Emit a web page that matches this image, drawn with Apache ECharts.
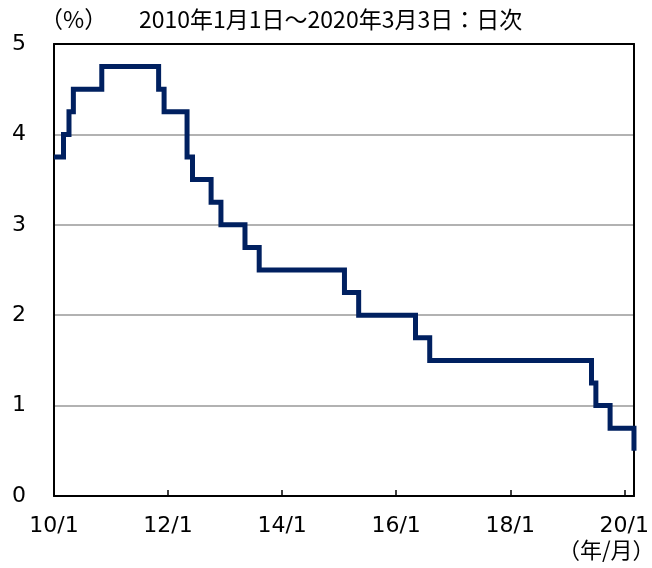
<!DOCTYPE html>
<html><head><meta charset="utf-8">
<script src="https://cdn.jsdelivr.net/npm/echarts@6/dist/echarts.min.js"></script>
<style>html,body{margin:0;padding:0;background:#fff}#c{width:652px;height:568px}</style>
</head><body><div id="c"></div>
<script>
// Policy rate change points (effective date, rate %)
const dates = ['2010-01-01','2010-03-03','2010-04-07','2010-05-05','2010-11-03','2011-11-02','2011-12-07',
  '2012-05-02','2012-06-06','2012-10-03','2012-12-05','2013-05-08','2013-08-07','2015-02-04','2015-05-06',
  '2016-05-04','2016-08-03','2019-06-05','2019-07-03','2019-10-02','2020-03-03'];
const rates = [3.75,4.00,4.25,4.50,4.75,4.50,4.25,3.75,3.50,3.25,3.00,2.75,2.50,2.25,2.00,1.75,1.50,1.25,1.00,0.75,0.50];
const tickDates = ['2010-01-01','2012-01-01','2014-01-01','2016-01-01','2018-01-01','2020-01-01'];
const tickLabels = ['10/1','12/1','14/1','16/1','18/1','20/1'];
const yMin = 0, yMax = 5, yStep = 1;
const titleText = '2010年1月1日～2020年3月3日：日次';
const yUnit = '（%）';
const xUnit = '（年/月）';

const ts = s => { const [y,m,d] = s.split('-').map(Number); return Date.UTC(y, m-1, d); };
const tickTs = tickDates.map(ts);
const FONT = '"DejaVu Sans", "Noto Sans CJK JP", sans-serif';
const CJK = '"Noto Sans CJK JP", sans-serif';

const chart = echarts.init(document.getElementById('c'), null, {renderer:'canvas'});
chart.setOption({
  animation: false,
  backgroundColor: '#fff',
  grid: {left: 54, right: 18, top: 44, bottom: 72},
  graphic: [
    {type:'text', left: 40, top: 8, style:{text: yUnit, font: '23px ' + CJK, fill:'#000'}},
    {type:'text', left: 139, top: 8, style:{text: titleText, font: '23px ' + CJK, fill:'#000'}},
    {type:'text', left: 558, top: 539, style:{text: xUnit, font: '22px ' + CJK, fill:'#000'}}
  ],
  xAxis: [{
    type: 'value',
    min: ts(dates[0]),
    max: ts(dates[dates.length-1]),
    axisLine: {show:true, onZero:false, lineStyle:{color:'#000', width:2}},
    axisTick: {show:true, inside:true, length:6, customValues: tickTs, lineStyle:{color:'#000', width:1.5}},
    axisLabel: {customValues: tickTs, margin: 19, color:'#000', fontSize: 22, fontFamily: FONT,
      formatter: v => { const i = tickTs.indexOf(v); return i >= 0 ? tickLabels[i] : ''; },
      showMinLabel: true, showMaxLabel: true, hideOverlap: false},
    splitLine: {show:false}
  },{
    type: 'value', position: 'top', min: 0, max: 1,
    axisLine: {show:true, onZero:false, lineStyle:{color:'#000', width:2}},
    axisTick: {show:false}, axisLabel: {show:false}, splitLine: {show:false}
  }],
  yAxis: [{
    type: 'value', min: yMin, max: yMax, interval: yStep,
    axisLine: {show:true, onZero:false, lineStyle:{color:'#000', width:2}},
    axisTick: {show:false},
    axisLabel: {color:'#000', fontSize: 22, fontFamily: FONT, margin: 28},
    splitLine: {show:true, lineStyle:{color:'#999', width:1.5}}
  },{
    type: 'value', position: 'right', min: 0, max: 1,
    axisLine: {show:true, onZero:false, lineStyle:{color:'#000', width:2}},
    axisTick: {show:false}, axisLabel: {show:false}, splitLine: {show:false}
  }],
  series: [{
    type: 'line', step: 'end', showSymbol: false, symbol: 'none',
    data: dates.map((d,i) => [ts(d), rates[i]]),
    lineStyle: {color:'#002060', width:5, join:'miter'},
    z: 5
  }]
});
</script></body></html>
